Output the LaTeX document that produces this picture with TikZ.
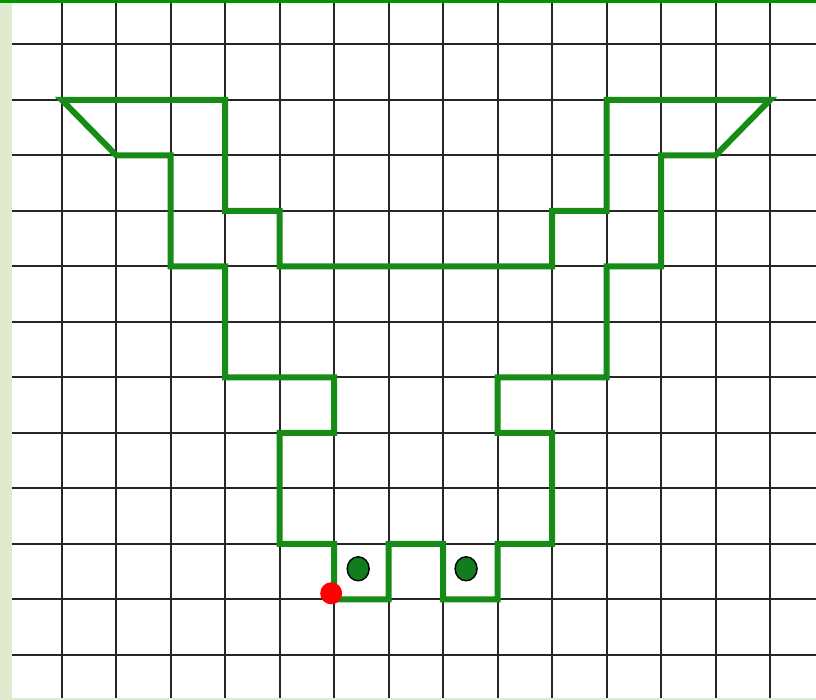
\documentclass[tikz,border=0pt]{standalone}
\usepackage{xcolor}
\usetikzlibrary{backgrounds}
\definecolor{linegreen}{RGB}{22,140,22}
\definecolor{eyegreen}{RGB}{18,125,30}
\definecolor{paper}{RGB}{224,234,206}
\definecolor{topbar}{RGB}{0,150,0}
\tikzset{
  gridline/.style={draw=black!85, line width=0.6pt},
  outline/.style={draw=linegreen, line width=1.7pt, line join=miter},
  eye/.style={fill=eyegreen, draw=black, line width=0.4pt},
  startdot/.style={fill=red, draw=none}
}

\begin{document}
\begin{tikzpicture}[x=0.545cm, y=-0.555cm]
  \useasboundingbox (-1.132,-0.798) rectangle (13.84,11.81);
  % paper and sheet
  \fill[paper] (-1.132,-0.798) rectangle (13.84,11.81);
  \fill[white] (-0.912,-0.752) rectangle (13.84,11.77);
  \fill[topbar] (-1.132,-0.798) rectangle (13.84,-0.752);

  % squared paper
  \foreach \i in {0,...,13}
    \draw[gridline] (\i,-0.752) -- (\i,11.77);
  \foreach \j in {0,...,11}
    \draw[gridline] (-0.912,\j) -- (13.84,\j);

  % the figure
  \draw[outline] (0,1) -- (3,1) -- (3,3) -- (4,3) -- (4,4) -- (9,4) -- (9,3)
    -- (10,3) -- (10,1) -- (13,1) -- (12,2) -- (11,2) -- (11,4) -- (10,4)
    -- (10,6) -- (8,6) -- (8,7) -- (9,7) -- (9,9) -- (8,9) -- (8,10)
    -- (7,10) -- (7,9) -- (6,9) -- (6,10) -- (5,10) -- (5,9) -- (4,9)
    -- (4,7) -- (5,7) -- (5,6) -- (3,6) -- (3,4) -- (2,4) -- (2,2)
    -- (1,2) -- cycle;

  % eyes
  \path[eye] (5.44,9.45) circle[x radius=0.11cm, y radius=0.12cm];
  \path[eye] (7.42,9.45) circle[x radius=0.11cm, y radius=0.12cm];

  % start point
  \path[startdot] ([shift={(-0.03cm,0.06cm)}]5,10) circle[radius=0.11cm];
\end{tikzpicture}
\end{document}
